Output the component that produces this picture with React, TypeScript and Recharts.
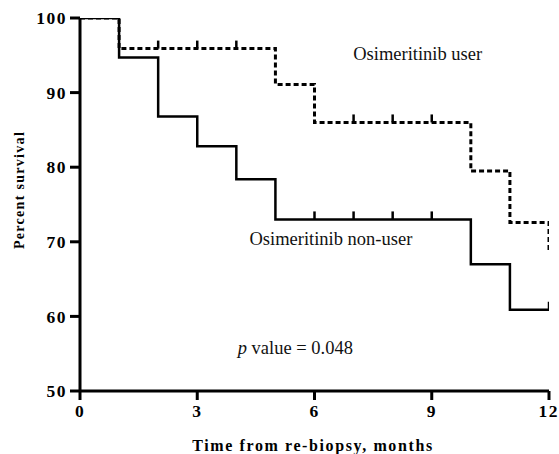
import React from "react";
import {
  ComposedChart,
  Line,
  Scatter,
  XAxis,
  YAxis,
  ReferenceDot,
} from "recharts";

// Kaplan-Meier steps (months, percent survival)
const userSteps = [
  { x: 0, y: 100 },
  { x: 1, y: 95.9 },
  { x: 5, y: 91.1 },
  { x: 6, y: 86.0 },
  { x: 10, y: 79.5 },
  { x: 11, y: 72.6 },
  { x: 12, y: 68.6 },
];

const nonUserSteps = [
  { x: 0, y: 100 },
  { x: 1, y: 94.7 },
  { x: 2, y: 86.8 },
  { x: 3, y: 82.8 },
  { x: 4, y: 78.4 },
  { x: 5, y: 73.0 },
  { x: 10, y: 67.0 },
  { x: 11, y: 60.9 },
  { x: 12, y: 60.9 },
];

// censored observations (tick marks)
const userCensored = [
  { x: 2, y: 95.9 },
  { x: 3, y: 95.9 },
  { x: 4, y: 95.9 },
  { x: 7, y: 86.0 },
  { x: 8, y: 86.0 },
  { x: 9, y: 86.0 },
];

const nonUserCensored = [
  { x: 6, y: 73.0 },
  { x: 7, y: 73.0 },
  { x: 8, y: 73.0 },
  { x: 9, y: 73.0 },
  { x: 12, y: 60.9 },
];

const xTicks = [0, 3, 6, 9, 12];
const yTicks = [50, 60, 70, 80, 90, 100];

const SERIF = "'Liberation Serif', 'DejaVu Serif', serif";

const CensorMark = (props: any) => {
  const { cx, cy } = props;
  if (cx == null || cy == null) return null;
  return <line x1={cx} y1={cy} x2={cx} y2={cy - 8} stroke="#000" strokeWidth={2.5} />;
};

const tickStyle = {
  fontFamily: SERIF,
  fontWeight: 700,
  fontSize: 17.5,
  fill: "#000",
  letterSpacing: 1.5,
};

const noteLabel = (text: React.ReactNode) => (props: any) => {
  const vb = props.viewBox || {};
  const cx = vb.x + (vb.width || 0) / 2;
  const cy = vb.y + (vb.height || 0) / 2;
  return (
    <text
      x={cx}
      y={cy}
      textAnchor="middle"
      dominantBaseline="central"
      fontFamily={SERIF}
      fontSize={18.5}
      fill="#111"
    >
      {text}
    </text>
  );
};

export default function App() {
  return (
    <div style={{ position: "absolute", left: 0, top: 0, background: "#fff" }}>
      <ComposedChart
        width={559}
        height={454}
        margin={{ top: 18, right: 10, bottom: 0, left: 0 }}
      >
        <XAxis
          type="number"
          dataKey="x"
          domain={[0, 12]}
          ticks={xTicks}
          allowDataOverflow
          height={63}
          tickSize={9}
          tickMargin={5}
          axisLine={{ stroke: "#000", strokeWidth: 3 }}
          tickLine={{ stroke: "#000", strokeWidth: 3 }}
          tick={tickStyle}
          label={{
            content: () => (
              <text
                x={313}
                y={445}
                textAnchor="middle"
                dominantBaseline="central"
                fontFamily={SERIF}
                fontWeight={700}
                fontSize={16}
                letterSpacing={1.6}
                fill="#000"
              >
                Time from re-biopsy, months
              </text>
            ),
          }}
        />
        <YAxis
          type="number"
          domain={[50, 100]}
          ticks={yTicks}
          allowDataOverflow
          width={80}
          tickSize={10}
          tickMargin={3}
          axisLine={{ stroke: "#000", strokeWidth: 3 }}
          tickLine={{ stroke: "#000", strokeWidth: 3 }}
          tick={tickStyle}
          label={{
            content: () => (
              <text
                x={19}
                y={190}
                transform="rotate(-90 19 190)"
                textAnchor="middle"
                dominantBaseline="central"
                fontFamily={SERIF}
                fontWeight={700}
                fontSize={14}
                letterSpacing={1.3}
                fill="#000"
              >
                Percent survival
              </text>
            ),
          }}
        />
        <Line
          data={userSteps}
          dataKey="y"
          type="stepAfter"
          stroke="#000"
          strokeWidth={3}
          strokeDasharray="5 3"
          dot={false}
          activeDot={false}
          isAnimationActive={false}
        />
        <Line
          data={nonUserSteps}
          dataKey="y"
          type="stepAfter"
          stroke="#000"
          strokeWidth={2.5}
          dot={false}
          activeDot={false}
          isAnimationActive={false}
        />
        <Scatter
          data={userCensored}
          dataKey="y"
          shape={CensorMark}
          isAnimationActive={false}
        />
        <Scatter
          data={nonUserCensored}
          dataKey="y"
          shape={CensorMark}
          isAnimationActive={false}
        />
        <ReferenceDot
          x={8.64}
          y={95.2}
          r={1}
          fill="none"
          stroke="none"
          label={{ content: noteLabel("Osimeritinib user") }}
        />
        <ReferenceDot
          x={6.42}
          y={70.4}
          r={1}
          fill="none"
          stroke="none"
          label={{ content: noteLabel("Osimeritinib non-user") }}
        />
        <ReferenceDot
          x={5.51}
          y={55.8}
          r={1}
          fill="none"
          stroke="none"
          label={{
            content: noteLabel(
              <>
                <tspan fontStyle="italic">p</tspan> value = 0.048
              </>
            ),
          }}
        />
      </ComposedChart>
    </div>
  );
}
